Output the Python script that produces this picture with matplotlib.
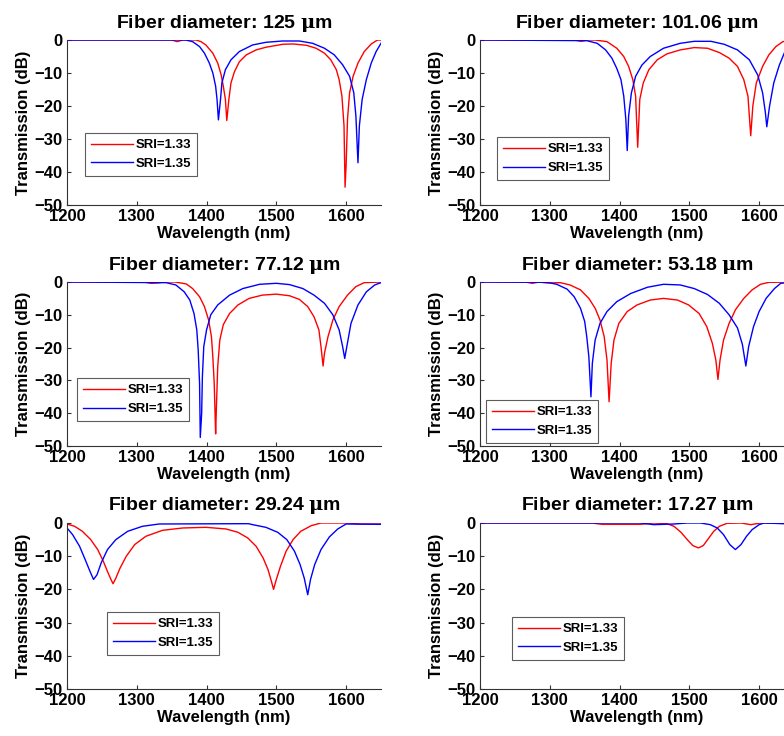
import matplotlib
matplotlib.use('Agg')
import matplotlib.pyplot as plt

plt.rcParams['font.family'] = ['Liberation Sans', 'DejaVu Sans']
plt.rcParams['font.weight'] = 'bold'
plt.rcParams['mathtext.fontset'] = 'custom'
plt.rcParams['mathtext.rm'] = 'DejaVu Serif'
plt.rcParams['mathtext.it'] = 'DejaVu Serif'

diameters = ['125', '101.06', '77.12', '53.18', '29.24', '17.27']
sri_labels = ['SRI=1.33', 'SRI=1.35']

# 125 um
d125_wl_r = [1200, 1350, 1358, 1366, 1385, 1392, 1399, 1409, 1416, 1421, 1424, 1427, 1429, 1432, 1435, 1440, 1447,
             1457, 1471, 1485, 1509, 1524, 1543, 1557, 1569, 1578, 1586, 1590, 1594, 1597, 1598.5, 1600, 1602, 1605,
             1610, 1617, 1626, 1636, 1645, 1650]
d125_t_r = [0, 0, -0.5, 0, 0, -0.5, -1.5, -4, -7, -10.6, -14, -18, -24.4, -18, -13, -9.6, -6.6,
            -4.5, -3, -2.2, -1.3, -1.2, -1.6, -2.5, -4, -6, -9, -12, -17, -26, -44.6, -38, -24, -16,
            -11, -7, -3.5, -1.2, 0, 0]
d125_wl_b = [1200, 1370, 1380, 1390, 1397, 1404, 1409, 1413, 1415, 1417, 1420, 1422, 1427, 1435, 1447, 1466, 1485,
             1509, 1533, 1552, 1569, 1583, 1595, 1605, 1611, 1614, 1617, 1619, 1623, 1629, 1636, 1643, 1650]
d125_t_b = [0, 0, -0.5, -2, -4, -7, -10, -14, -18, -24.2, -18, -13, -9, -6, -3.5, -1.5, -0.7,
            -0.3, -0.3, -1, -2.5, -4.5, -7.5, -11, -16, -23, -37.2, -26, -18, -12, -7, -3.5, -1]

# 101.06 um
d101_wl_r = [1200, 1335, 1345, 1355, 1365, 1382, 1396, 1406, 1413, 1419, 1423, 1426, 1429, 1434, 1442, 1454, 1468,
             1487, 1507, 1526, 1543, 1557, 1569, 1578, 1584, 1588, 1591, 1596, 1605, 1614, 1624, 1634, 1650]
d101_t_r = [0, 0, -0.4, 0, 0, -0.5, -2.5, -5, -8, -12, -17, -32.5, -18, -13, -9, -6, -4.2,
            -3, -2.3, -2.5, -3.8, -5.5, -8, -12, -17, -29, -20, -13, -8, -4.5, -2, -0.5, 0]
d101_wl_b = [1200, 1353, 1368, 1380, 1389, 1396, 1402, 1406, 1409, 1411, 1413, 1417, 1423, 1432, 1444, 1463,
             1487, 1507, 1531, 1550, 1569, 1586, 1598, 1605, 1609, 1611, 1615, 1621, 1629, 1637, 1650]
d101_t_b = [0, -0.2, -1, -3, -5.5, -8.6, -12, -17, -24, -33.5, -23, -16, -11, -7.6, -5, -2.5,
            -1, -0.4, -0.4, -1.3, -3, -6, -10.6, -16, -22, -26.3, -20, -13, -7.6, -3.5, -1.5]

# 77.12 um
d77_wl_r = [1200, 1310, 1320, 1330, 1340, 1355, 1371, 1380, 1390, 1397, 1403, 1407, 1409, 1411, 1413, 1414, 1416,
            1419, 1424, 1433, 1445, 1461, 1480, 1500, 1519, 1533, 1545, 1554, 1561, 1564, 1567, 1569, 1574, 1581,
            1590, 1602, 1614, 1626, 1650]
d77_t_r = [0, 0, -0.4, -0.3, 0, 0, -0.6, -2, -4.5, -7.5, -11.6, -16.7, -22.8, -31, -46.3, -39, -25.8,
           -17.7, -13, -9.6, -7, -5, -4, -3.7, -4.2, -5.3, -7.5, -10.6, -14.6, -19.7, -25.6, -21.7, -16.7, -11.6,
           -7.5, -4, -1.4, -0.2, 0]
d77_wl_b = [1200, 1342, 1356, 1368, 1376, 1382, 1386, 1388, 1390, 1391, 1393, 1394, 1396, 1400, 1406, 1416,
            1433, 1452, 1476, 1500, 1519, 1538, 1554, 1569, 1581, 1590, 1595, 1598, 1601, 1607, 1617, 1629, 1641, 1650]
d77_t_b = [0, -0.2, -0.9, -3, -5.5, -9.6, -14.6, -20.7, -31, -47.4, -40, -29, -19.7, -14.6, -10, -7,
           -4, -2, -0.7, -0.4, -0.8, -2, -4, -6.5, -10, -14.6, -19.7, -23.3, -19.7, -12.6, -7, -3, -0.9, -0.2]

# 53.18 um
d53_wl_r = [1200, 1265, 1275, 1285, 1295, 1315, 1329, 1344, 1356, 1365, 1372, 1378, 1382, 1385, 1388, 1392, 1399,
            1411, 1425, 1444, 1463, 1483, 1499, 1514, 1525, 1533, 1538, 1541, 1544, 1549, 1557, 1566, 1578, 1590,
            1602, 1614, 1650]
d53_t_r = [0, 0, -0.4, 0, -0.3, -0.2, -0.9, -2.4, -5, -8, -11.6, -16.7, -23.8, -36.5, -24.8, -17.7, -12.6,
           -9, -7, -5.5, -5, -5.5, -7, -9.6, -13.6, -18.7, -23.8, -29.7, -23.8, -17.7, -12.6, -8.5, -5, -2.4,
           -0.7, -0.1, 0]
d53_wl_b = [1200, 1296, 1310, 1325, 1335, 1344, 1350, 1353, 1356, 1359, 1361, 1365, 1372, 1382, 1396, 1416,
            1440, 1463, 1487, 1507, 1526, 1543, 1557, 1569, 1576, 1581, 1585, 1592, 1600, 1610, 1622, 1631, 1650]
d53_t_b = [0, -0.1, -0.7, -2.2, -4.5, -8, -12, -16.7, -22.8, -35, -24.8, -17.7, -12.6, -9, -6, -3.5,
           -1.6, -0.7, -0.9, -2, -3.8, -6.5, -10, -14, -19, -25.6, -19.7, -13.6, -9, -5, -2, -0.4, 0]

# 29.24 um
d29_wl_r = [1200, 1211, 1222, 1234, 1244, 1252, 1258, 1263, 1266, 1270, 1276, 1285, 1297, 1313, 1337, 1366,
            1399, 1428, 1445, 1459, 1471, 1481, 1488, 1493, 1496, 1500, 1506, 1514, 1524, 1535, 1550, 1564,
            1600, 1620, 1650]
d29_t_r = [-0.3, -1, -2.5, -5, -8, -11.5, -14.6, -17, -18.3, -16.6, -13.6, -10, -6.5, -4, -2.2, -1.5,
           -1.3, -1.8, -2.8, -4.5, -7, -10.5, -14, -17.6, -20, -17, -13, -8.5, -5, -2.5, -0.8, 0,
           0, -0.3, -0.3]
d29_wl_b = [1200, 1208, 1218, 1226, 1233, 1238, 1243, 1249, 1258, 1270, 1287, 1308, 1332, 1460, 1466, 1485,
            1502, 1515, 1526, 1534, 1540, 1545, 1549, 1555, 1564, 1576, 1588, 1600, 1650]
d29_t_b = [-1.5, -3.5, -7, -11, -14.6, -17, -15.6, -12, -8, -5, -2.5, -1, -0.3, -0.2, -0.5, -1.3,
           -2.8, -5, -8.5, -12.5, -16.6, -21.6, -17, -12.5, -8, -4.2, -1.8, -0.3, -0.4]

# 17.27 um
d17_wl_r = [1200, 1360, 1375, 1430, 1449, 1468, 1478, 1488, 1497, 1505, 1513, 1520, 1528, 1535, 1543, 1554,
            1574, 1588, 1602, 1650]
d17_t_r = [0, 0, -0.4, -0.4, 0, -0.2, -1, -2.8, -5, -6.8, -7.5, -6.8, -4.5, -2.5, -1, -0.1,
           0, -0.5, 0, -0.2]
d17_wl_b = [1200, 1430, 1449, 1478, 1497, 1516, 1530, 1540, 1549, 1558, 1566, 1574, 1582, 1590, 1600, 1607, 1650]
d17_t_b = [0, 0, -0.5, -0.3, 0, 0, -0.5, -1.5, -3.5, -6.5, -8, -6.5, -4, -2, -0.5, 0, -0.3]

curves = [
    (d125_wl_r, d125_t_r, d125_wl_b, d125_t_b),
    (d101_wl_r, d101_t_r, d101_wl_b, d101_t_b),
    (d77_wl_r, d77_t_r, d77_wl_b, d77_t_b),
    (d53_wl_r, d53_t_r, d53_wl_b, d53_t_b),
    (d29_wl_r, d29_t_r, d29_wl_b, d29_t_b),
    (d17_wl_r, d17_t_r, d17_wl_b, d17_t_b),
]

# legend anchors (axes fraction)
legend_pos = [(0.057, 0.176), (0.054, 0.15), (0.032, 0.152), (0.019, 0.018), (0.127, 0.205), (0.102, 0.175)]

fig = plt.figure(figsize=(7.84, 7.36), dpi=100)
W, H = 784, 736
lefts = [67, 480]
rows = [(40, 205), (282, 446), (523, 689)]

for i in range(6):
    r, c = divmod(i, 2)
    top, bot = rows[r]
    ax = fig.add_axes([lefts[c] / W, (H - bot) / H, 314 / W, (bot - top) / H])
    wr, tr, wb, tb = curves[i]
    ax.plot(wr, tr, color='r', lw=1.0, label=sri_labels[0])
    ax.plot(wb, tb, color='b', lw=1.0, label=sri_labels[1])
    ax.set_xlim(1200, 1650)
    ax.set_ylim(-50, 0)
    ax.set_xticks([1200, 1300, 1400, 1500, 1600])
    ax.set_yticks([0, -10, -20, -30, -40, -50])
    ax.spines['top'].set_visible(False)
    ax.spines['right'].set_visible(False)
    ax.spines['left'].set_color('#333333')
    ax.spines['bottom'].set_color('#333333')
    ax.tick_params(direction='in', length=3, labelsize=12, pad=3, color='#333333')
    for lab in ax.get_xticklabels() + ax.get_yticklabels():
        lab.set_fontweight('bold')
    ax.set_xlabel('Wavelength (nm)', fontsize=12, fontweight='bold', labelpad=1)
    ax.set_ylabel('Transmission (dB)', fontsize=12, fontweight='bold', labelpad=3)
    ax.set_title('Fiber diameter: ' + diameters[i] + r' $\mu$m', fontsize=14, fontweight='bold', pad=9)
    leg = ax.legend(loc='lower left', bbox_to_anchor=legend_pos[i], fontsize=9.5, handlelength=3.2,
                    frameon=True, fancybox=False, edgecolor='#333333', borderpad=0.45, labelspacing=0.5,
                    handletextpad=0.2, borderaxespad=0)
    leg.get_frame().set_linewidth(0.8)
    for t in leg.get_texts():
        t.set_fontweight('bold')

fig.savefig('out.png', dpi=100)
